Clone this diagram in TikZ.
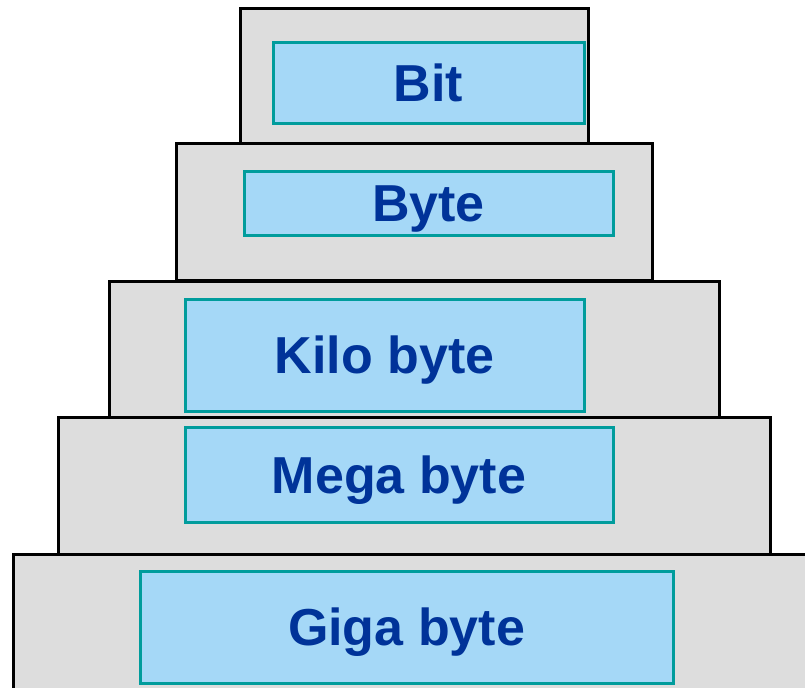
\documentclass[tikz,border=0pt]{standalone}
\usepackage{fontspec}
\setmainfont{Liberation Sans}
\usepackage{tikz}
\usetikzlibrary{positioning}

\definecolor{layergray}{HTML}{DDDDDD}
\definecolor{unitblue}{HTML}{A5D8F7}
\definecolor{unitedge}{HTML}{009C9C}
\definecolor{unittext}{HTML}{003399}

\begin{document}
\begin{tikzpicture}[x=0.5pt,y=-0.5pt,
    layer/.style={draw=black,fill=layergray,line width=1.5pt,anchor=north west,inner sep=0pt,outer sep=0pt},
    unit/.style={draw=unitedge,fill=unitblue,line width=1.5pt,anchor=north west,inner sep=0pt,outer sep=0pt,
      text=unittext,text height=18.6pt,text depth=0pt,font=\fontsize{26pt}{30pt}\selectfont\bfseries}]

  \clip (0,0) rectangle (805,687);

  % layers of the pyramid
  \node[layer,minimum width=408.5pt,minimum height=78pt] (l5) at (13,554) {};
  \node[layer,minimum width=356pt,minimum height=68.5pt] (l4) at (58,417) {};
  \node[layer,minimum width=305pt,minimum height=68pt] (l3) at (109,281) {};
  \node[layer,minimum width=238pt,minimum height=68.5pt] (l2) at (176,143) {};
  \node[layer,minimum width=174pt,minimum height=67.5pt] (l1) at (240,8) {};

  % unit labels
  \node[unit,minimum width=155.5pt,minimum height=40.5pt] (bit) at (273,42) {Bit};
  \node[unit,minimum width=184.5pt,minimum height=32pt] (byte) at (244,171) {Byte};
  \node[unit,minimum width=199.5pt,minimum height=56pt] (kilo) at (185,299) {Kilo byte};
  \node[unit,minimum width=214pt,minimum height=47.5pt] (mega) at (185,427) {Mega byte};
  \node[unit,minimum width=266.5pt,minimum height=56pt] (giga) at (140,571) {Giga byte};
\end{tikzpicture}
\end{document}
